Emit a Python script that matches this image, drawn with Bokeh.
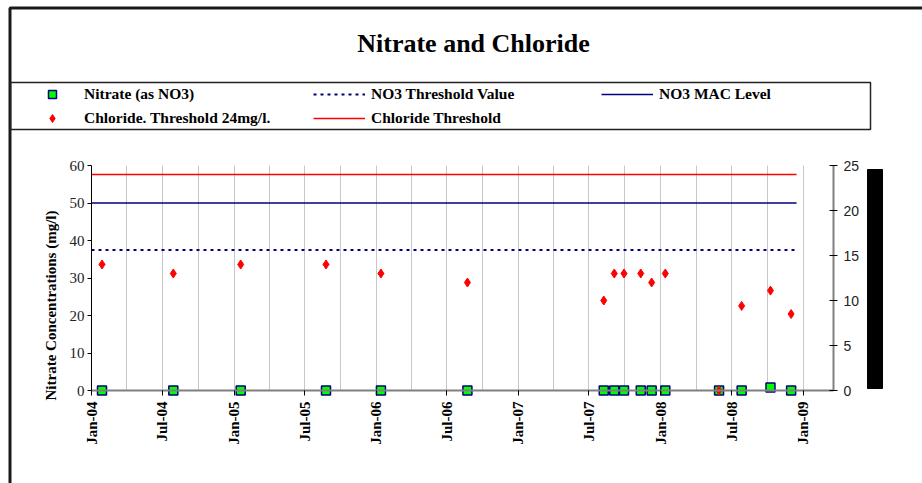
import math
import pandas as pd
from bokeh.plotting import figure
from bokeh.models import (Range1d, LinearAxis, DatetimeAxis, FixedTicker, DatetimeTickFormatter,
                          Label, BoxAnnotation, ColumnDataSource, Grid, Legend, LegendItem)
from bokeh.embed import file_html
from bokeh.resources import INLINE

# ---------------- data ----------------
sample_dates = ["2004-01-28", "2004-07-29", "2005-01-18", "2005-08-25", "2006-01-13",
                "2006-08-23", "2007-08-08", "2007-09-04", "2007-09-29", "2007-11-11",
                "2007-12-09", "2008-01-13", "2008-05-30", "2008-07-27", "2008-10-09",
                "2008-12-01"]
nitrate = [0, 0, 0, 0, 0, 0, 0, 0, 0, 0, 0, 0, 0, 0, 0.8, 0]
chloride = [14, 13, 14, 14, 13, 12, 10, 13, 13, 13, 12, 13, 0, 9.4, 11.1, 8.5]

threshold_dates = ["2004-01-01", "2008-12-15"]
no3_threshold = [37.5, 37.5]
no3_mac = [50, 50]
chloride_threshold = [24, 24]

x_tick_dates = ["2004-01-01", "2004-07-01", "2005-01-01", "2005-07-01", "2006-01-01",
                "2006-07-01", "2007-01-01", "2007-07-01", "2008-01-01", "2008-07-01",
                "2009-01-01"]
grid_dates = ["2004-04-01", "2004-07-01", "2004-10-01", "2005-01-01",
              "2005-04-01", "2005-07-01", "2005-10-01", "2006-01-01", "2006-04-01",
              "2006-07-01", "2006-10-01", "2007-01-01", "2007-04-01", "2007-07-01",
              "2007-10-01", "2008-01-01", "2008-04-01", "2008-07-01", "2008-10-01",
              "2009-01-01"]
x_axis_start, x_axis_end = "2004-01-01", "2009-03-20"
left_ticks = [0, 10, 20, 30, 40, 50, 60]
right_ticks = [0, 5, 10, 15, 20, 25]

title_text = "Nitrate and Chloride"
y_label = "Nitrate Concentrations (mg/l)"
legend_labels = ["Nitrate (as NO3)", "NO3 Threshold Value", "NO3 MAC Level",
                 "Chloride. Threshold 24mg/l.", "Chloride Threshold"]

# ---------------- layout constants ----------------
W, H = 922, 483
AX_L, AX_B, AX_T = 91, 390, 165       # canvas px of the plot area
PX_PER_DAY = 711.7 / 1827.0
SERIF = "Liberation Serif"
SANS = "Liberation Sans"
NAVY = "#000080"
DOTS = "3 4"


def ms(d):
    return pd.Timestamp(d).value // 10**6


t0 = pd.Timestamp(x_axis_start)
x_start = t0 - pd.Timedelta(days=AX_L / PX_PER_DAY)
x_end = t0 + pd.Timedelta(days=(W - AX_L) / PX_PER_DAY)
lpx = (AX_B - AX_T) / left_ticks[-1]
rpx = (AX_B - AX_T) / right_ticks[-1]


def sx(cx):
    return cx


def sy(cy):
    return H - cy


src = ColumnDataSource(dict(date=pd.to_datetime(sample_dates), nitrate=nitrate, chloride=chloride))
thr = ColumnDataSource(dict(date=pd.to_datetime(threshold_dates), no3_t=no3_threshold,
                            mac=no3_mac, cl_t=chloride_threshold))

p = figure(width=W, height=H, output_backend="svg", toolbar_location=None,
           x_axis_type="datetime", x_axis_location=None, y_axis_location=None,
           x_range=Range1d(x_start, x_end),
           y_range=Range1d(-(H - AX_B) / lpx, AX_B / lpx),
           min_border=0)
p.outline_line_color = None
p.background_fill_color = "white"
p.border_fill_color = "white"
p.extra_y_ranges = {"cl": Range1d(-(H - AX_B) / rpx, AX_B / rpx)}

# drop default grids
for r in list(p.center):
    if isinstance(r, Grid):
        r.visible = False

# vertical grid lines (quarterly)
g = Grid(dimension=0, ticker=FixedTicker(ticks=[ms(d) for d in grid_dates]),
         grid_line_color="#c8c8c8", grid_line_width=1,
         cross_bounds=(left_ticks[0], left_ticks[-1]))
p.add_layout(g)

# bottom axis
fmt = "%b-%y"
xa = DatetimeAxis(ticker=FixedTicker(ticks=[ms(d) for d in x_tick_dates]),
                  formatter=DatetimeTickFormatter(days=fmt, months=fmt, years=fmt, hours=fmt),
                  fixed_location=0, bounds=(ms(x_axis_start), ms(x_axis_end)))
xa.major_label_orientation = math.pi / 2
xa.major_label_text_font = SERIF
xa.major_label_text_font_style = "bold"
xa.major_label_text_font_size = "15px"
xa.major_label_text_color = "black"
xa.major_label_standoff = 6
xa.axis_line_color = "#808080"
xa.axis_line_width = 2
xa.major_tick_line_color = "black"
xa.major_tick_out = 5
xa.major_tick_in = 0
xa.minor_tick_line_color = None
p.add_layout(xa, "below")

# left axis
ya = LinearAxis(ticker=FixedTicker(ticks=left_ticks), fixed_location=ms(x_axis_start),
                bounds=(left_ticks[0], left_ticks[-1]))
ya.major_label_text_font = SERIF
ya.major_label_text_font_size = "15px"
ya.major_label_text_color = "#222222"
ya.major_label_standoff = 3
ya.axis_line_color = "black"
ya.major_tick_line_color = "black"
ya.major_tick_out = 4
ya.major_tick_in = 0
ya.minor_tick_line_color = None
p.add_layout(ya, "left")

# right axis
ra = LinearAxis(y_range_name="cl", ticker=FixedTicker(ticks=right_ticks),
                fixed_location=ms(x_axis_end), bounds=(right_ticks[0], right_ticks[-1]))
ra.major_label_text_font = SANS
ra.major_label_text_font_size = "14px"
ra.major_label_text_color = "#222222"
ra.major_label_standoff = 6
ra.axis_line_color = "#808080"
ra.axis_line_width = 2
ra.major_tick_line_color = "black"
ra.major_tick_out = 4
ra.major_tick_in = 4
ra.minor_tick_line_color = None
p.add_layout(ra, "right")

# threshold lines
r_thr = p.line("date", "no3_t", source=thr, line_color=NAVY, line_width=2, line_dash=DOTS)
r_mac = p.line("date", "mac", source=thr, line_color=NAVY, line_width=1.3)
r_clt = p.line("date", "cl_t", source=thr, line_color="#ff0000", line_width=1.3, y_range_name="cl")

# data points
r_no3 = p.scatter("date", "nitrate", source=src, marker="square", size=9,
                  fill_color="#00ff00", line_color=NAVY, line_width=1.5)
r_cl = p.scatter("date", "chloride", source=src, marker="diamond", size=9,
                 fill_color="#ff0000", line_color="#ff0000", y_range_name="cl")


# ---------------- annotations ----------------
def box(l, t, r, b, fill_color=None, line_color="black", line_width=1):
    ba = BoxAnnotation(left=sx(l), right=sx(r), top=sy(t), bottom=sy(b),
                       left_units="screen", right_units="screen",
                       top_units="screen", bottom_units="screen",
                       fill_color=fill_color, fill_alpha=1.0,
                       line_color=line_color, line_alpha=1.0, line_width=line_width)
    p.add_layout(ba)


def label(x, y, text, **kw):
    lb = Label(x=sx(x), y=sy(y), x_units="screen", y_units="screen", text=text, **kw)
    p.add_layout(lb)


# outer chart border
box(9.5, 7.5, 1000, 600, line_color="#1a1a1a", line_width=3)
# legend box
box(10, 82, 870, 129, line_color="#222222", line_width=1.5)
# black bar right of the secondary axis
box(867, 169, 882, 388, fill_color="black", line_color="black")

# title
label(473, 43, title_text, text_font=SERIF, text_font_style="bold", text_font_size="26px",
      text_align="center", text_baseline="middle", text_color="black")
# y-axis title
label(50, 305, y_label, angle=math.pi / 2, text_font=SERIF, text_font_style="bold",
      text_font_size="15px", text_align="center", text_baseline="middle", text_color="black")

# legend: three columns, each a borderless Legend
ROW_TOP, ROW_H, ROW_GAP = 84, 20, 4
columns = [
    (26, [(legend_labels[0], r_no3), (legend_labels[3], r_cl)]),
    (313, [(legend_labels[1], r_thr), (legend_labels[4], r_clt)]),
    (601, [(legend_labels[2], r_mac)]),
]
for left, entries in columns:
    n = len(entries)
    bottom = ROW_TOP + n * ROW_H + (n - 1) * ROW_GAP
    lg = Legend(items=[LegendItem(label=t, renderers=[r]) for t, r in entries],
                location=(sx(left), sy(bottom)), orientation="vertical",
                glyph_width=52, glyph_height=ROW_H, label_height=ROW_H,
                label_standoff=6, spacing=ROW_GAP, padding=0, margin=0,
                border_line_color=None, background_fill_alpha=0,
                label_text_font=SERIF, label_text_font_style="bold",
                label_text_font_size="15.5px", label_text_color="black")
    p.add_layout(lg)

open("out.html", "w").write(file_html(p, INLINE))
